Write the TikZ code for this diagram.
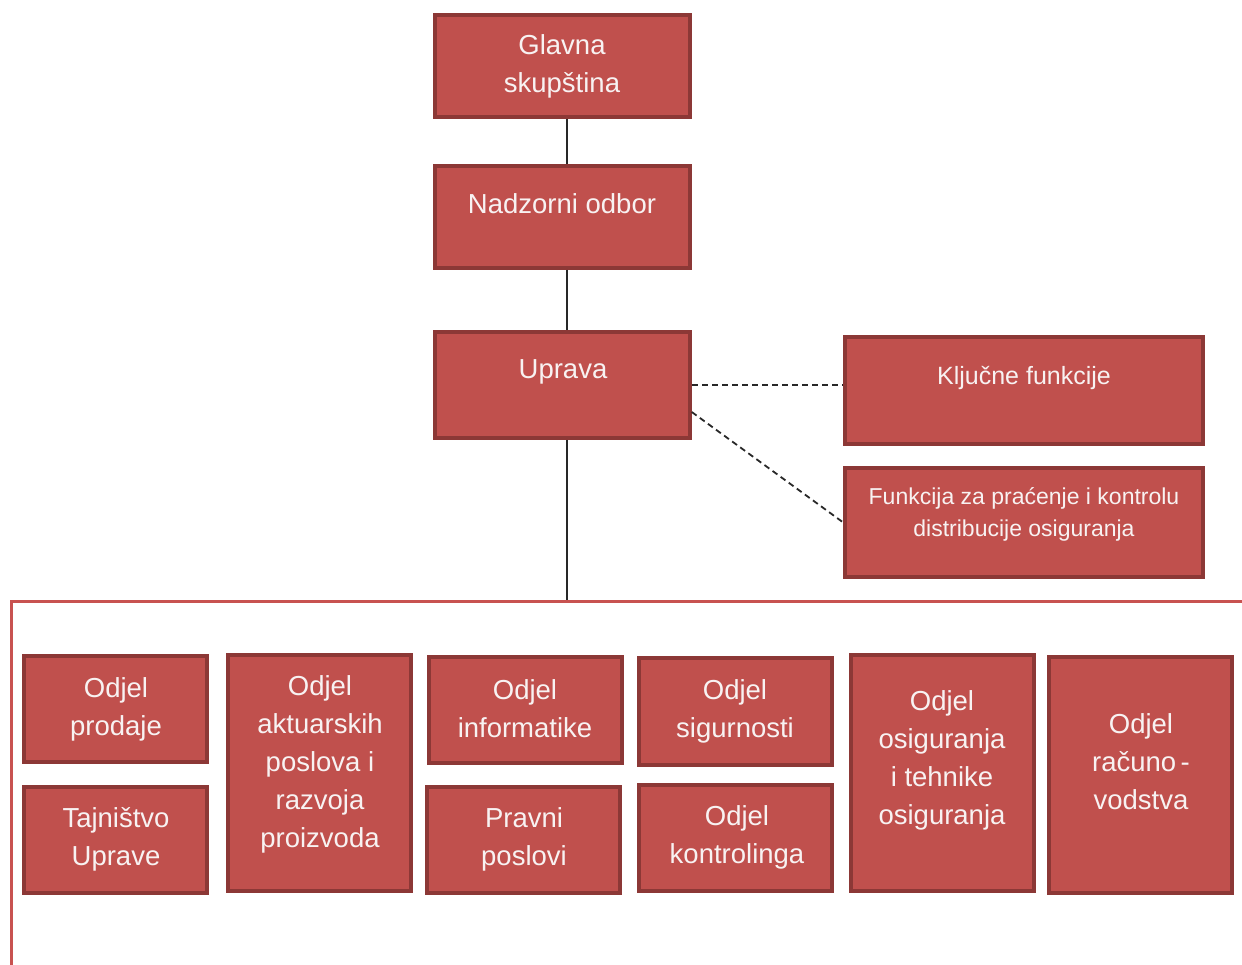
\documentclass[tikz,border=0pt]{standalone}
\usepackage{fontspec}
\setmainfont{Liberation Sans}
\usetikzlibrary{fit,calc}
\definecolor{boxfill}{RGB}{192,80,77}
\definecolor{boxedge}{RGB}{140,56,54}
\definecolor{txtcol}{RGB}{248,242,242}
\definecolor{linecol}{RGB}{40,40,40}
\definecolor{framecol}{RGB}{200,82,80}
\begin{document}
\begin{tikzpicture}[x=1pt,y=-1pt,
  box/.style={draw=boxedge, fill=boxfill, line width=3.5pt, inner sep=0pt},
  txt/.style={text=txtcol, align=center, inner sep=0pt, yshift=-2pt, font=\fontsize{27.5}{38}\selectfont},
  smalltxt/.style={text=txtcol, align=center, inner sep=0pt, yshift=-2pt, font=\fontsize{23}{32}\selectfont},
  conn/.style={draw=linecol, line width=1.5pt},
  dashconn/.style={draw=linecol, line width=1.8pt, dash pattern=on 6pt off 4pt},
  frameline/.style={draw=framecol, line width=3pt}
]
\useasboundingbox (0,0) rectangle (1242,965);

% top chain
\node[box, fit={(435,15) (690,117)}] (glavna) {};
\node[txt] (glavna-t) at (562,64) {Glavna\\skupština};
\node[box, fit={(435,166) (690,268)}] (nadzor) {};
\node[txt] (nadzor-t) at (562,202) {Nadzorni odbor};
\node[box, fit={(435,332) (690,438)}] (uprava) {};
\node[txt] (uprava-t) at (563,370) {Uprava};

% key functions
\node[box, fit={(845,337) (1203,444)}] (kljucne) {};
\node[txt, font=\fontsize{25}{34}\selectfont] (kljucne-t) at (1024,376) {Ključne funkcije};
\node[box, fit={(845,468) (1203,577)}] (funkcija) {};
\node[smalltxt] (funkcija-t) at (1024,512) {Funkcija za praćenje i kontrolu\\distribucije osiguranja};

% connectors
\coordinate (trunk) at (567,601);
\draw[conn] (glavna.south -| trunk) -- (nadzor.north -| trunk);
\draw[conn] (nadzor.south -| trunk) -- (uprava.north -| trunk);
\draw[conn] (uprava.south -| trunk) -- (trunk);
\draw[dashconn] (uprava.east) -- (kljucne.west |- uprava.east);
\draw[dashconn] ($(uprava.east)+(0,27)$) -- (funkcija.west);

% frame
\coordinate (frameL) at (11,965);
\coordinate (frameR) at (1242,601);
\draw[frameline] (frameL) -- (frameL |- trunk) -- (frameR);

% departments
\node[box, fit={(24,656) (207,762)}] (prodaje) {};
\node[txt] (prodaje-t) at (116,707) {Odjel\\prodaje};
\node[box, fit={(24,787) (207,893)}] (tajnistvo) {};
\node[txt] (tajnistvo-t) at (116,837) {Tajništvo\\Uprave};
\node[box, fit={(228,655) (411,891)}] (aktuar) {};
\node[txt] (aktuar-t) at (320,762) {Odjel\\aktuarskih\\poslova i\\razvoja\\proizvoda};
\node[box, fit={(429,657) (622,763)}] (informatike) {};
\node[txt] (informatike-t) at (525,707) {Odjel\\informatike};
\node[box, fit={(427,787) (620,893)}] (pravni) {};
\node[txt] (pravni-t) at (524,837) {Pravni\\poslovi};
\node[box, fit={(639,658) (832,765)}] (sigurnosti) {};
\node[txt] (sigurnosti-t) at (735,709) {Odjel\\sigurnosti};
\node[box, fit={(639,785) (832,891)}] (kontrolinga) {};
\node[txt] (kontrolinga-t) at (737,835) {Odjel\\kontrolinga};
\node[box, fit={(851,655) (1034,891)}] (osiguranja) {};
\node[txt] (osiguranja-t) at (942,758) {Odjel\\osiguranja\\i tehnike\\osiguranja};
\node[box, fit={(1049,657) (1232,893)}] (racuno) {};
\node[txt] (racuno-t) at (1141,760) {Odjel\\računo\,-\\vodstva};
\end{tikzpicture}
\end{document}
